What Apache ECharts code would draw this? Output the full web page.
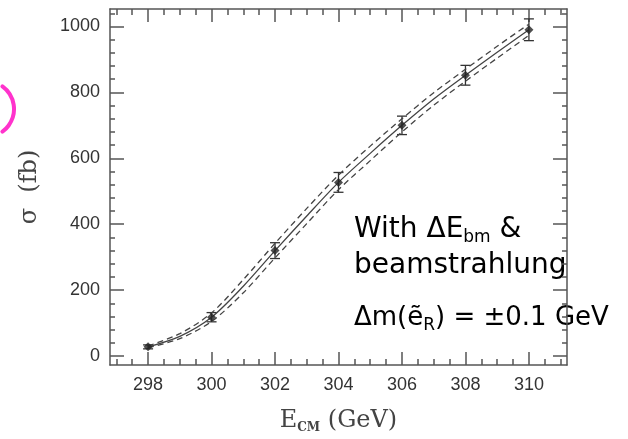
<!DOCTYPE html>
<html>
<head>
<meta charset="utf-8">
<script src="https://cdn.jsdelivr.net/npm/echarts@6/dist/echarts.min.js"></script>
<style>
  html, body { margin: 0; padding: 0; background: #fff; }
  #chart { width: 628px; height: 439px; }
</style>
</head>
<body>
<div id="chart"></div>
<script>
// curve sampling energies (GeV) and cross sections (fb)
const curveE = [298, 299, 300, 301, 302, 303, 304, 305, 306, 307, 308, 309, 310]
const sigmaCentral = [28, 60, 118, 212, 320, 425, 527, 615, 700, 780, 852, 922, 990]
const sigmaUpper = [31, 68, 131, 232, 342, 448, 549, 637, 720, 799, 870, 940, 1007]
const sigmaLower = [25, 53, 105, 192, 298, 402, 505, 593, 680, 761, 834, 904, 973]

// simulated measurements with errors
const pointE = [298, 300, 302, 304, 306, 308, 310]
const pointSigma = [28, 118, 320, 527, 700, 852, 990]
const pointErr = [6, 14, 24, 30, 28, 30, 33]

// tick positions
const xMajorTicks = [298, 300, 302, 304, 306, 308, 310]
const xMinorTicks = [297, 297.5, 298.5, 299, 299.5, 300.5, 301, 301.5, 302.5, 303, 303.5,
  304.5, 305, 305.5, 306.5, 307, 307.5, 308.5, 309, 309.5, 310.5, 311]
const yMajorTicks = [0, 200, 400, 600, 800, 1000]
const yMinorTicks = [40, 80, 120, 160, 240, 280, 320, 360, 440, 480, 520, 560,
  640, 680, 720, 760, 840, 880, 920, 960, 1040]

const axisColor = '#555'
const X_MIN = 296.8, X_MAX = 311.2, Y_MIN = -27, Y_MAX = 1053

function axisDef(position, min, max, ticks, len, withLabels, withLine, margin) {
  return {
    type: 'value', position, min, max,
    axisLine: { show: withLine, onZero: false, lineStyle: { color: axisColor, width: 1.5 } },
    axisTick: { show: true, inside: true, length: len, customValues: ticks, lineStyle: { color: axisColor, width: 1.5 } },
    axisLabel: withLabels
      ? { show: true, customValues: ticks, margin, formatter: (v) => String(v),
          fontFamily: 'Liberation Sans', fontSize: 18, color: '#333' }
      : { show: false },
    splitLine: { show: false },
  }
}

const xAxes = [
  axisDef('bottom', X_MIN, X_MAX, xMajorTicks, 13, true, true, 11),
  axisDef('bottom', X_MIN, X_MAX, xMinorTicks, 6, false, false),
  axisDef('top', X_MIN, X_MAX, xMajorTicks, 13, false, true),
  axisDef('top', X_MIN, X_MAX, xMinorTicks, 6, false, false),
]
xAxes[0].name = '{a|E}{s|CM}{a| (GeV)}'
xAxes[0].nameLocation = 'middle'
xAxes[0].nameGap = 43
xAxes[0].nameTextStyle = {
  rich: {
    a: { fontFamily: 'DejaVu Serif', fontSize: 24, color: '#444', lineHeight: 26 },
    s: { fontFamily: 'DejaVu Serif', fontSize: 12, fontWeight: 'bold', color: '#444', lineHeight: 8, verticalAlign: 'bottom' },
  },
}

const yAxes = [
  axisDef('left', Y_MIN, Y_MAX, yMajorTicks, 14, true, true, 10),
  axisDef('left', Y_MIN, Y_MAX, yMinorTicks, 5, false, false),
  axisDef('right', Y_MIN, Y_MAX, yMajorTicks, 14, false, true),
  axisDef('right', Y_MIN, Y_MAX, yMinorTicks, 5, false, false),
]
yAxes[0].name = 'σ  (fb)'
yAxes[0].nameLocation = 'middle'
yAxes[0].nameGap = 68
yAxes[0].nameTextStyle = { fontFamily: 'DejaVu Serif', fontSize: 24, color: '#444' }

const curveStyle = (type) => ({ color: '#444', width: 1.3, type })

const chart = echarts.init(document.getElementById('chart'), null, { renderer: 'canvas' })
chart.setOption({
  animation: false,
  backgroundColor: '#fff',
  grid: { left: 110, top: 9, right: 61, bottom: 65 },
  xAxis: xAxes,
  yAxis: yAxes,
  series: [
    {
      type: 'line', data: curveE.map((e, i) => [e, sigmaUpper[i]]),
      smooth: 0.3, showSymbol: false, lineStyle: curveStyle([6, 4]),
    },
    {
      type: 'line', data: curveE.map((e, i) => [e, sigmaLower[i]]),
      smooth: 0.3, showSymbol: false, lineStyle: curveStyle([6, 4]),
    },
    {
      type: 'line', data: curveE.map((e, i) => [e, sigmaCentral[i]]),
      smooth: 0.3, showSymbol: false, lineStyle: curveStyle('solid'),
    },
    {
      type: 'custom',
      data: pointE.map((e, i) => [e, pointSigma[i] - pointErr[i], pointSigma[i] + pointErr[i]]),
      renderItem: (params, api) => {
        const lo = api.coord([api.value(0), api.value(1)])
        const hi = api.coord([api.value(0), api.value(2)])
        const w = 5
        const style = { stroke: '#333', lineWidth: 1.3 }
        return {
          type: 'group',
          children: [
            { type: 'line', shape: { x1: lo[0], y1: lo[1], x2: hi[0], y2: hi[1] }, style },
            { type: 'line', shape: { x1: lo[0] - w, y1: lo[1], x2: lo[0] + w, y2: lo[1] }, style },
            { type: 'line', shape: { x1: hi[0] - w, y1: hi[1], x2: hi[0] + w, y2: hi[1] }, style },
          ],
        }
      },
      z: 3,
    },
    {
      type: 'scatter', data: pointE.map((e, i) => [e, pointSigma[i]]),
      symbol: 'diamond', symbolSize: 9, itemStyle: { color: '#222' }, z: 4,
    },
  ],
  graphic: [
    {
      type: 'arc',
      shape: { cx: -14, cy: 109, r: 28, startAngle: -Math.PI * 0.3, endAngle: Math.PI * 0.3 },
      style: { stroke: '#ff33cc', lineWidth: 4, fill: null, lineCap: 'round' },
    },
    {
      type: 'text', left: 354, top: 216,
      style: {
        text: '{t|With ΔE}{s|bm}{t| &}',
        rich: {
          t: { fontFamily: 'DejaVu Sans', fontSize: 28, fill: '#000', lineHeight: 32 },
          s: { fontFamily: 'DejaVu Sans', fontSize: 17, fill: '#000', lineHeight: 12, verticalAlign: 'bottom' },
        },
      },
    },
    {
      type: 'text', left: 354, top: 252,
      style: { text: 'beamstrahlung', fontFamily: 'DejaVu Sans', fontSize: 28, fill: '#000' },
    },
    {
      type: 'text', left: 354, top: 305,
      style: {
        text: '{t|Δm(ẽ}{s|R}{t|) = ±0.1 GeV}',
        rich: {
          t: { fontFamily: 'DejaVu Sans', fontSize: 26, fill: '#000', lineHeight: 32 },
          s: { fontFamily: 'DejaVu Sans', fontSize: 17, fill: '#000', lineHeight: 12, verticalAlign: 'bottom' },
        },
      },
    },
  ],
})
</script>
</body>
</html>
